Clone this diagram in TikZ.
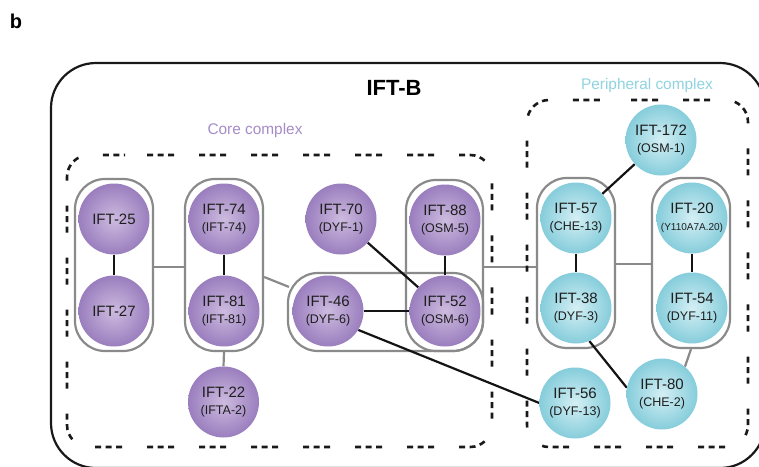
\documentclass[tikz,border=0pt]{standalone}
\usepackage{fontspec}
\setmainfont{Liberation Sans}
\usetikzlibrary{calc,backgrounds}
\definecolor{pIn}{HTML}{CDBBDF}
\definecolor{pOut}{HTML}{9A7EBE}
\definecolor{bIn}{HTML}{D4EFF4}
\definecolor{bOut}{HTML}{86CDDB}
\definecolor{pillgray}{HTML}{8A8A8A}
\definecolor{txt}{HTML}{1E1E1E}
\definecolor{coreC}{HTML}{A68BC9}
\definecolor{periC}{HTML}{8FD3E0}
\newcommand\sublbl[1]{{\fontsize{12.5}{14}\selectfont #1}}
\newcommand\tinylbl[1]{{\fontsize{10}{12}\selectfont #1}}
\begin{document}
\begin{tikzpicture}[x=1pt,y=-1pt,
  pill/.style={draw=pillgray, line width=2.2pt, rounded corners=30pt, inner sep=0pt},
  pc/.style={circle, inner sep=0pt, minimum size=71pt, inner color=pIn, outer color=pOut,
     text=txt, align=center, font=\fontsize{15}{17}\selectfont},
  bc/.style={pc, inner color=bIn, outer color=bOut},
  glink/.style={draw=pillgray, line width=2.2pt},
  blink/.style={draw=black!92, line width=2.2pt},
  dashbox/.style={draw=black!90, line width=2.6pt,
     dash pattern=on 6pt off 4.5pt on 6pt off 4.5pt on 6pt off 25pt},
  outerbox/.style={draw=black!90, line width=2.2pt, rounded corners=45pt}]
\useasboundingbox (0,0) rectangle (759,466);
\begin{scope}
\clip (0,0) rectangle (759,466);
\draw[outerbox] (51,63) rectangle (765,468);
\end{scope}

% labels
\node[font=\bfseries\fontsize{20}{20}\selectfont, inner sep=0pt] (lb) at (16,21) {b};
\node[font=\bfseries\fontsize{22}{22}\selectfont, inner sep=0pt] (title) at (394,88) {IFT-B};
\node[text=coreC, font=\fontsize{15.4}{16}\selectfont, inner sep=0pt] (core) at (255,131) {Core complex};
\node[text=periC, font=\fontsize{15.4}{16}\selectfont, inner sep=0pt] (peri) at (647,86) {Peripheral complex};

% dashed complex boxes
\draw[dashbox, dash phase=30pt, rounded corners=22pt] (125,155) -- (492,155) -- (492,447) -- (67,447) -- (67,155) -- (125,155);
\draw[dashbox, dash phase=31pt, rounded corners=22pt] (610,100) -- (748,100) -- (748,447) -- (527,447) -- (527,100) -- (610,100);

% circles
\node[pc] (n25) at (114,219) {IFT-25};
\node[pc] (n27) at (114,311) {IFT-27};
\node[pc] (n74) at (224,219) {IFT-74\\\sublbl{(IFT-74)}};
\node[pc] (n81) at (224,311) {IFT-81\\\sublbl{(IFT-81)}};
\node[pc] (n22) at (223.5,402) {IFT-22\\\sublbl{(IFTA-2)}};
\node[pc] (n70) at (341,219) {IFT-70\\\sublbl{(DYF-1)}};
\node[pc] (n88) at (445,220) {IFT-88\\\sublbl{(OSM-5)}};
\node[pc] (n52) at (445,311) {IFT-52\\\sublbl{(OSM-6)}};
\node[pc] (n46) at (328,311) {IFT-46\\\sublbl{(DYF-6)}};
\node[bc] (n172) at (661,140) {IFT-172\\\sublbl{(OSM-1)}};
\node[bc] (n57) at (576,218) {IFT-57\\\sublbl{(CHE-13)}};
\node[bc] (n20) at (692,218) {IFT-20\\\tinylbl{(Y110A7A.20)}};
\node[bc] (n38) at (576,308) {IFT-38\\\sublbl{(DYF-3)}};
\node[bc] (n54) at (692,308) {IFT-54\\\sublbl{(DYF-11)}};
\node[bc] (n80) at (662,394) {IFT-80\\\sublbl{(CHE-2)}};
\node[bc] (n56) at (575,403) {IFT-56\\\sublbl{(DYF-13)}};

\begin{pgfonlayer}{background}
% pills
\node[pill, minimum width=78pt, minimum height=172pt] (p25) at (114,265) {};
\node[pill, minimum width=78pt, minimum height=172pt] (p74) at (224,265) {};
\node[pill, minimum width=195pt, minimum height=78pt] (p46) at (385.5,312) {};
\node[pill, minimum width=77pt, minimum height=171pt] (p88) at (444.5,265.5) {};
\node[pill, minimum width=78pt, minimum height=170pt] (p57) at (576,263) {};
\node[pill, minimum width=78pt, minimum height=170pt] (p20) at (691,263) {};
% gray links
\draw[glink] ($(p25.east)+(0,2)$) -- ($(p74.west)+(0,2)$);
\draw[glink] ($(p74.east)+(0,12)$) -- ($(p46.north west)+(2,15)$);
\draw[glink] (p74.south) -- (n22.north);
\draw[glink] ($(p88.east)+(0,1.5)$) -- ($(p57.west)+(0,4)$);
\draw[glink] ($(p57.east)+(0,1)$) -- ($(p20.west)+(0,1)$);
\draw[glink] (p20.south) -- (n80.50);
% black links
\draw[blink] (n25) -- (n27);
\draw[blink] (n74) -- (n81);
\draw[blink] (n88) -- (n52);
\draw[blink] (n70) -- (n52);
\draw[blink] (n46) -- (n52);
\draw[blink] (n46.-32) -- (n56.west);
\draw[blink] (n172) -- (n57);
\draw[blink] (n57) -- (n38);
\draw[blink] (n20) -- (n54);
\draw[blink] (n38.-68) -- (n80.170);
\end{pgfonlayer}
\end{tikzpicture}
\end{document}
